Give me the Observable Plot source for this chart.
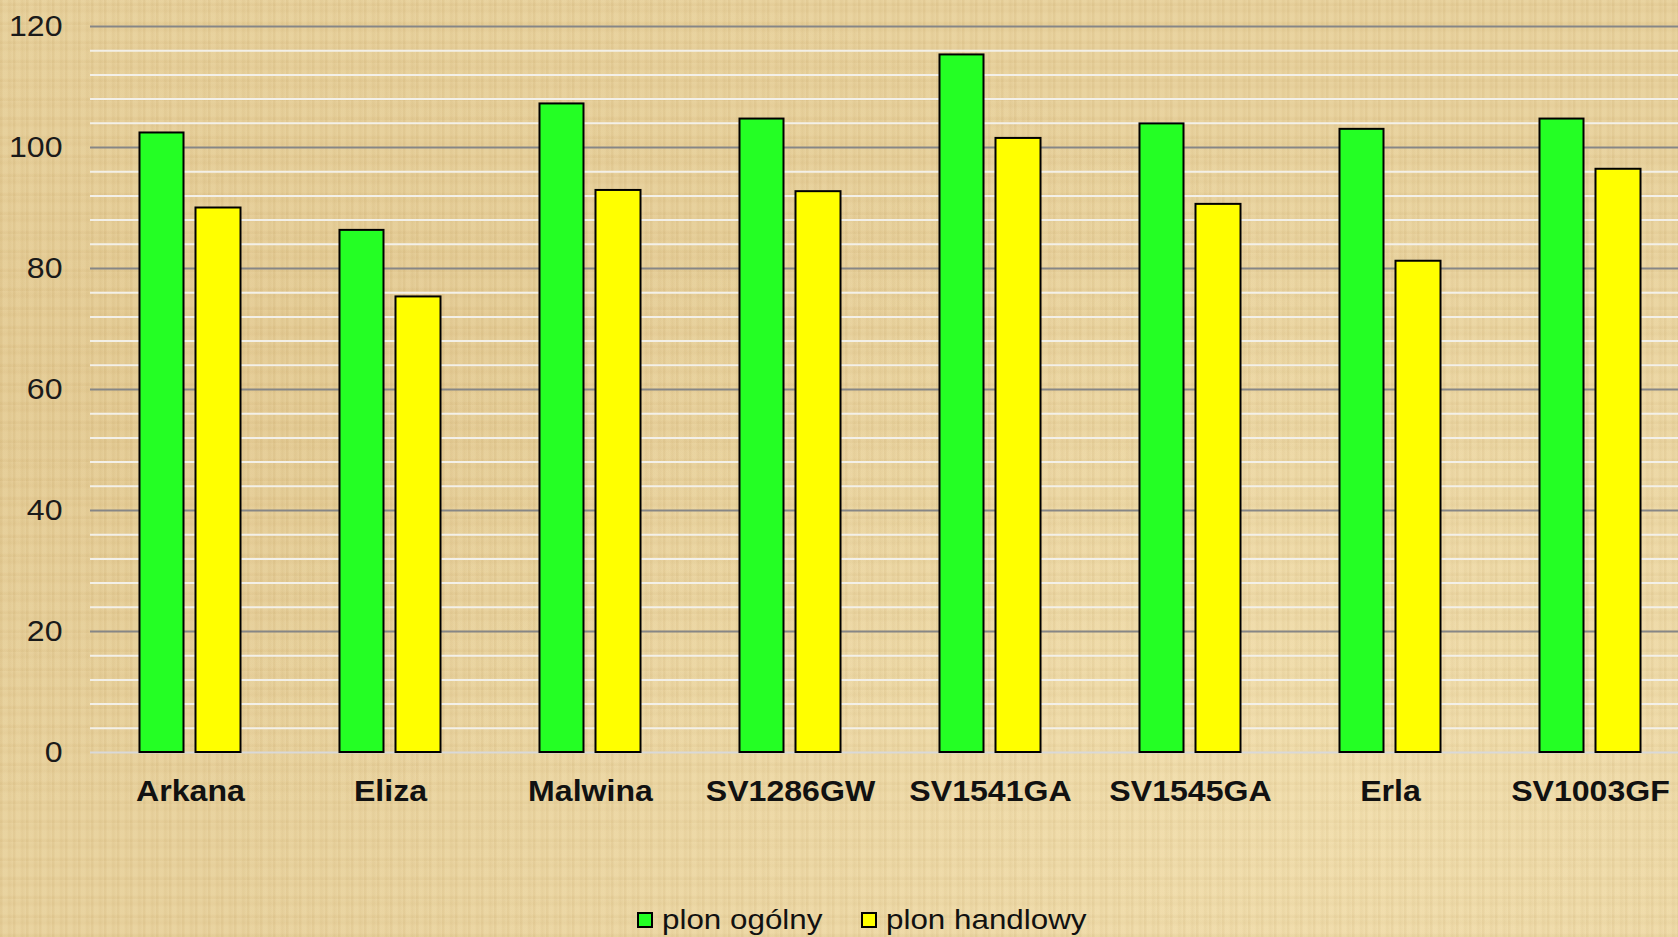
<!DOCTYPE html>
<html>
<head>
<meta charset="utf-8">
<script src="https://cdn.jsdelivr.net/npm/d3@7"></script>
<script src="https://cdn.jsdelivr.net/npm/@observablehq/plot@0.6"></script>
<style>
  html, body { margin: 0; padding: 0; }
  body {
    width: 1678px; height: 937px; overflow: hidden;
    font-family: "Liberation Sans", Arial, sans-serif;
    background-color: #e7d09b;
    background-image:
      repeating-linear-gradient(90deg, rgba(160,120,50,0.07) 0px, rgba(160,120,50,0.07) 2px, rgba(255,240,200,0.06) 3px, rgba(255,240,200,0.06) 7px, rgba(150,110,40,0.05) 9px, rgba(255,245,210,0.05) 13px),
      repeating-linear-gradient(0deg, rgba(170,130,60,0.06) 0px, rgba(170,130,60,0.06) 2px, rgba(255,240,200,0.05) 4px, rgba(255,240,200,0.05) 11px, rgba(160,120,50,0.04) 14px, rgba(255,245,215,0.04) 19px),
      radial-gradient(ellipse at 80% 85%, rgba(250,235,190,0.5), rgba(250,235,190,0) 60%),
      radial-gradient(ellipse at 10% 40%, rgba(200,160,90,0.15), rgba(200,160,90,0) 55%);
  }
  #wrap { position: relative; width: 1678px; height: 937px; }
  .leg { position: absolute; top: 904px; height: 32px; line-height: 32px; font-size: 28px; color: #111; white-space: nowrap; }
  .sw { position: absolute; top: 8px; left: 0; width: 16px; height: 16px; box-sizing: border-box; border: 2px solid #000; }
  .lt { position: absolute; left: 25px; top: 0; transform: scaleX(1.12); transform-origin: 0 50%; }
</style>
</head>
<body>
<div id="wrap">
  <div id="chart"></div>
</div>
<script>
const categories = ["Arkana", "Eliza", "Malwina", "SV1286GW", "SV1541GA", "SV1545GA", "Erla", "SV1003GF"];
const plonOgolny = [102.4, 86.3, 107.2, 104.7, 115.3, 103.9, 103.0, 104.7];
const plonHandlowy = [90.0, 75.3, 92.9, 92.7, 101.5, 90.6, 81.2, 96.4];
const seriesNames = ["plon ogólny", "plon handlowy"];
const seriesColors = ["#24ff24", "#ffff00"];
const yTicks = [0, 20, 40, 60, 80, 100, 120];
const minorTicks = d3.range(4, 120, 4).filter(v => v % 20 !== 0);

const rows = categories.map((c, i) => ({cat: c, ogolny: plonOgolny[i], handlowy: plonHandlowy[i]}));

const plot = Plot.plot({
  width: 1678,
  height: 880,
  marginTop: 26,
  marginBottom: 128,
  marginLeft: 90,
  marginRight: 0,
  style: {background: "transparent", fontFamily: "Liberation Sans, Arial, sans-serif", overflow: "visible"},
  x: {domain: categories, range: [89.5, 1689.5], padding: 0, axis: null},
  y: {domain: [0, 120], axis: null},
  marks: [
    Plot.ruleY(minorTicks, {stroke: "#f3f0e8", strokeWidth: 2}),
    Plot.ruleY(yTicks.filter(v => v > 0), {stroke: "#868686", strokeWidth: 2}),
    Plot.ruleY([0], {stroke: "#d9d9d9", strokeWidth: 2}),
    Plot.barY(rows, {x: "cat", y: "ogolny", fill: seriesColors[0], stroke: "#000", strokeWidth: 2, insetLeft: 49.5, insetRight: 106.5}),
    Plot.barY(rows, {x: "cat", y: "handlowy", fill: seriesColors[1], stroke: "#000", strokeWidth: 2, insetLeft: 105.5, insetRight: 49.5}),
    Plot.text(yTicks, {y: d => d, text: d => String(d), frameAnchor: "left", textAnchor: "end", dx: -28, fontSize: 30, fill: "#1a1a1a"}),
    Plot.text(categories, {x: d => d, text: d => d, frameAnchor: "bottom", lineAnchor: "top", dy: 27, fontSize: 30, fontWeight: "bold", fill: "#111"})
  ]
});
// slight horizontal stretch of the text, as in the reference
d3.select(plot).selectAll("text").each(function() {
  const t = this.getAttribute("transform");
  if (t && t.includes("translate")) this.setAttribute("transform", t + " scale(1.07,1)");
});
document.getElementById("chart").appendChild(plot);

const legendLefts = [637, 861];
const wrap = document.getElementById("wrap");
seriesNames.forEach((name, i) => {
  const item = document.createElement("div");
  item.className = "leg";
  item.style.left = legendLefts[i] + "px";
  const sw = document.createElement("span");
  sw.className = "sw";
  sw.style.background = seriesColors[i];
  const t = document.createElement("span");
  t.className = "lt";
  t.textContent = name;
  item.appendChild(sw);
  item.appendChild(t);
  wrap.appendChild(item);
});
</script>
</body>
</html>
